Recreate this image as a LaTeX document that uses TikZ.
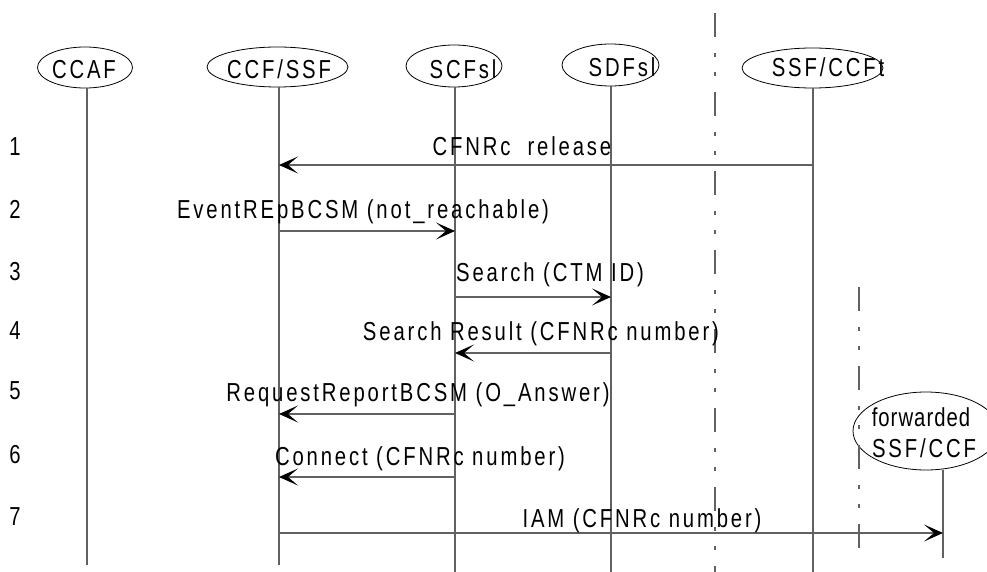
\documentclass[tikz,border=0pt]{standalone}
\usepackage{fontspec}
\setmainfont{Liberation Sans}[FakeStretch=0.78,LetterSpace=11]
\usetikzlibrary{arrows.meta,shapes.geometric}
\begin{document}
\begin{tikzpicture}[x=1pt,y=-1pt,
  ent/.style={draw=black, ellipse, line width=0.8pt, inner sep=0pt},
  txt/.style={font=\fontsize{26}{30}\selectfont, inner sep=0pt, anchor=base},
  life/.style={draw=black!62, line width=1.1pt},
  msg/.style={draw=black!62, line width=1.1pt, -{Stealth[length=19pt,width=17pt,inset=10pt,line width=1.2pt,black]}},
  sepline/.style={draw=black!62, line width=1.1pt, dash pattern=on 24pt off 16pt on 4pt off 15pt on 4pt off 16pt}]
\useasboundingbox (0,0) rectangle (987,572);
% entities
\node[ent, minimum width=95pt, minimum height=41pt] (ccaf) at (85,67.5) {};
\node[txt] (ccaft) at (84,79) {CCAF};
\node[ent, minimum width=141pt, minimum height=40pt] (ccf) at (277.5,67) {};
\node[txt] (ccft) at (279,79) {CCF/SSF};
\node[ent, minimum width=96pt, minimum height=42pt] (scf) at (454,66) {};
\node[txt] (scft) at (463,79) {SCFsl};
\node[ent, minimum width=97pt, minimum height=42pt] (sdf) at (610.5,65) {};
\node[txt] (sdft) at (622,77) {SDFsl};
\node[ent, minimum width=141pt, minimum height=40pt] (ssf) at (812.5,68) {};
\node[txt] (ssft) at (828,77) {SSF/CCFt};
\node[ent, minimum width=146pt, minimum height=78pt] (fwd) at (926,431) {};
\node[txt, font=\fontsize{26}{30}\selectfont\addfontfeature{LetterSpace=4}] (fwdt1) at (921,426) {forwarded};
\node[txt] (fwdt2) at (924,457) {SSF/CCF};
% lifeline coordinates
\coordinate (L1t) at (87,88);  \coordinate (L1b) at (87,565);
\coordinate (L2t) at (279,87); \coordinate (L2b) at (279,565);
\coordinate (L3t) at (455,87); \coordinate (L3b) at (455,572);
\coordinate (L4t) at (611,86); \coordinate (L4b) at (611,572);
\coordinate (L5t) at (813,88); \coordinate (L5b) at (813,572);
\coordinate (L6t) at (943,470); \coordinate (L6b) at (943,558);
\draw[life] (L1t) -- (L1b);
\draw[life] (L2t) -- (L2b);
\draw[life] (L3t) -- (L3b);
\draw[life] (L4t) -- (L4b);
\draw[life] (L5t) -- (L5b);
\draw[life] (L6t) -- (L6b);
% separators
\coordinate (S1t) at (715,13); \coordinate (S1b) at (715,572);
\coordinate (S2t) at (859,287); \coordinate (S2b) at (859,548);
\draw[sepline] (S1t) -- (S1b);
\draw[sepline] (S2t) -- (S2b);
% rows
\coordinate (r1) at (0,165);
\coordinate (r2) at (0,231);
\coordinate (r3) at (0,297);
\coordinate (r4) at (0,353);
\coordinate (r5) at (0,414);
\coordinate (r6) at (0,477);
\coordinate (r7) at (0,533);
\draw[msg] (L5t |- r1) -- (L2t |- r1);
\draw[msg] (L2t |- r2) -- (L3t |- r2);
\draw[msg] (L3t |- r3) -- (L4t |- r3);
\draw[msg] (L4t |- r4) -- (L3t |- r4);
\draw[msg] (L3t |- r5) -- (L2t |- r5);
\draw[msg] (L3t |- r6) -- (L2t |- r6);
\draw[msg] (L2t |- r7) -- (L6t |- r7);
% labels
\node[txt] (m1) at (522,156) {CFNRc\ \ release};
\node[txt] (m2) at (363,218) {EventREpBCSM (not\_reachable)};
\node[txt] (m3) at (550,281) {Search (CTM ID)};
\node[txt] (m4) at (541,340) {Search Result (CFNRc number)};
\node[txt] (m5) at (418,401) {RequestReportBCSM (O\_Answer)};
\node[txt] (m6) at (420,465) {Connect (CFNRc number)};
\node[txt] (m7) at (642,527) {IAM\ (CFNRc number)};
% numbers
\node[txt] (n1) at (15,156) {1};
\node[txt] (n2) at (15,218) {2};
\node[txt] (n3) at (15,280) {3};
\node[txt] (n4) at (15,339) {4};
\node[txt] (n5) at (15,399) {5};
\node[txt] (n6) at (15,463) {6};
\node[txt] (n7) at (15,525) {7};
\end{tikzpicture}
\end{document}
